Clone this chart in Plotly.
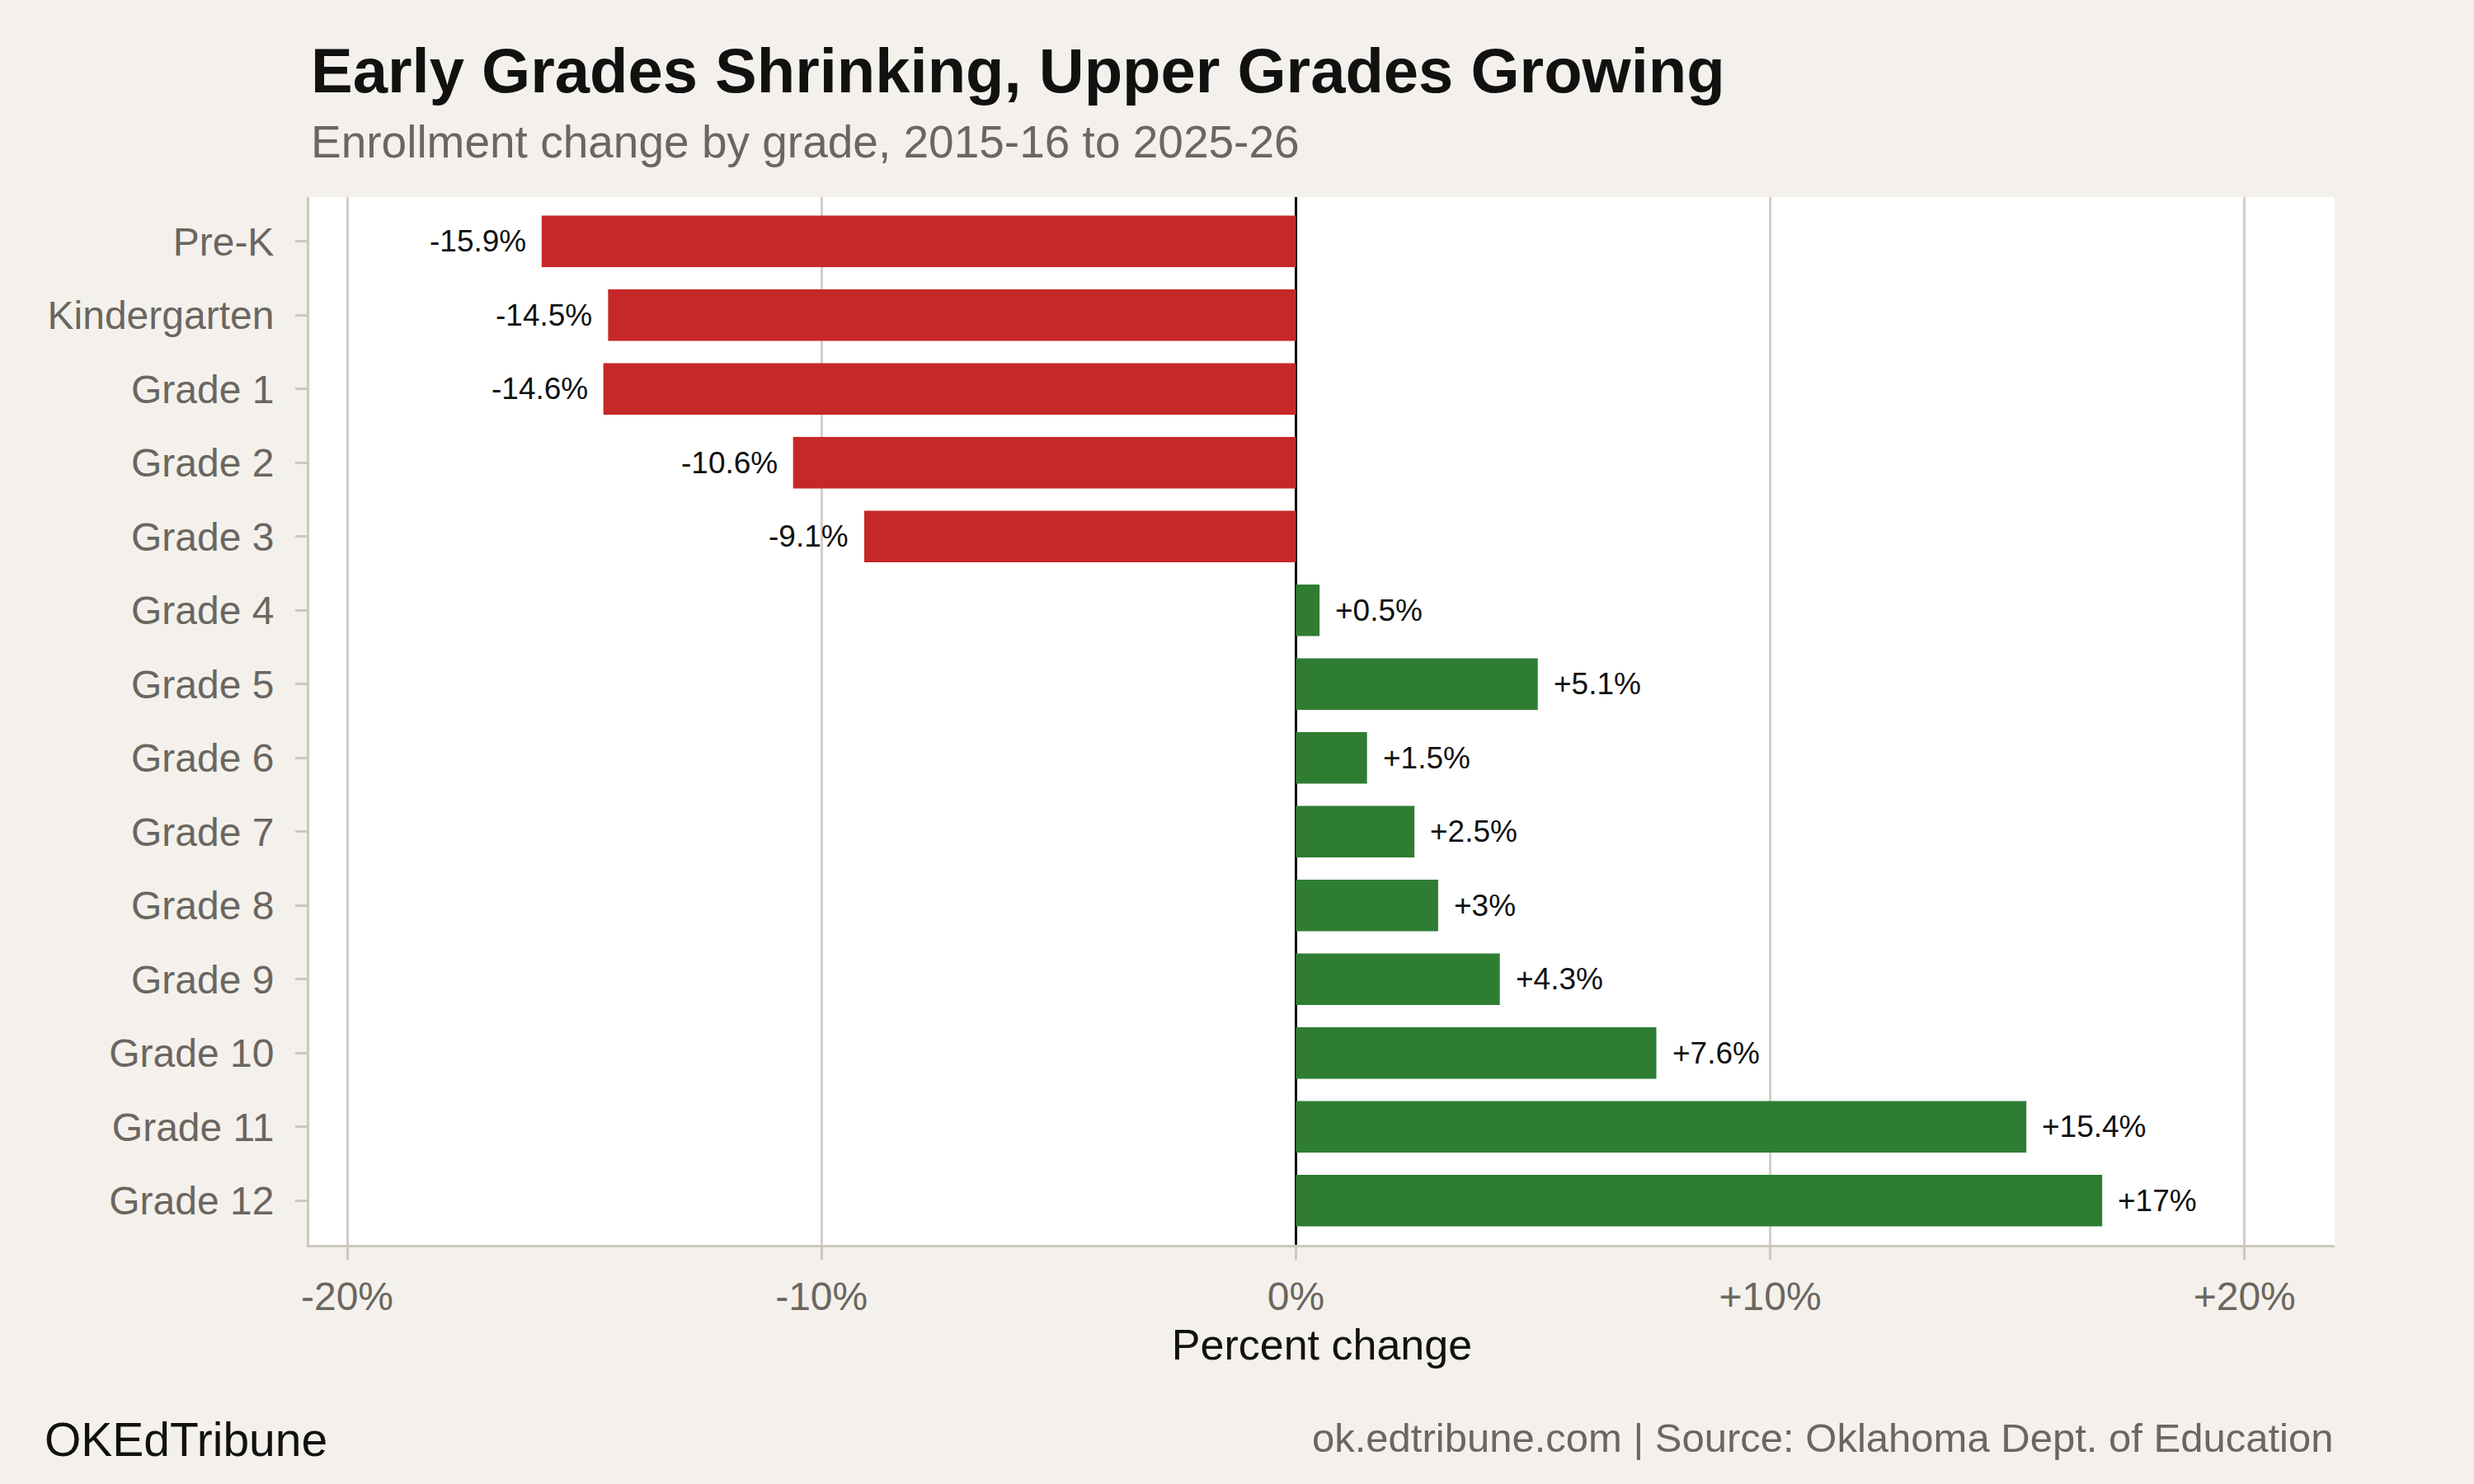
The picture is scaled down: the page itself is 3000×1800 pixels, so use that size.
import plotly.graph_objects as go

grades = ["Pre-K", "Kindergarten", "Grade 1", "Grade 2", "Grade 3", "Grade 4",
          "Grade 5", "Grade 6", "Grade 7", "Grade 8", "Grade 9", "Grade 10",
          "Grade 11", "Grade 12"]
pct_change = [-15.9, -14.5, -14.6, -10.6, -9.1, 0.5, 5.1, 1.5, 2.5, 3.0, 4.3,
              7.6, 15.4, 17.0]
x_tick_vals = [-20, -10, 0, 10, 20]
x_tick_text = ["-20%", "-10%", "0%", "+10%", "+20%"]

RED = "#c62828"
GREEN = "#2e7d32"
BG = "#f4f1ec"
GREY_TXT = "#6b6660"
AXIS_GREY = "#cdc8bf"
GRID_GREY = "#d3cec6"
FONT = "Liberation Sans"


def fmt(v):
    s = f"{v:g}"
    return ("+" + s if v > 0 else s) + "%"


colors = [RED if v < 0 else GREEN for v in pct_change]

fig = go.Figure()
fig.add_trace(go.Bar(
    x=pct_change, y=grades, orientation="h",
    marker=dict(color=colors, line=dict(width=0)),
    hoverinfo="skip", showlegend=False,
))

annotations = []
for g, v in zip(grades, pct_change):
    annotations.append(dict(
        x=v, y=g, xref="x", yref="y", text=fmt(v), showarrow=False,
        xanchor="left" if v > 0 else "right", yanchor="middle",
        xshift=17 if v > 0 else -17,
        font=dict(family=FONT, size=37, color="#111111"),
    ))

# title, subtitle, footer
annotations += [
    dict(x=0, y=1.1204, xref="paper", yref="paper", xanchor="left", yanchor="middle",
         text="<b>Early Grades Shrinking, Upper Grades Growing</b>", showarrow=False,
         font=dict(family=FONT, size=76, color="#111111")),
    dict(x=0, y=1.0527, xref="paper", yref="paper", xanchor="left", yanchor="middle",
         text="Enrollment change by grade, 2015-16 to 2025-26", showarrow=False,
         font=dict(family=FONT, size=55, color=GREY_TXT)),
    dict(x=-0.1314, y=-0.1857, xref="paper", yref="paper", xanchor="left", yanchor="middle",
         text="OKEdTribune", showarrow=False,
         font=dict(family=FONT, size=57, color="#111111")),
    dict(x=1, y=-0.184, xref="paper", yref="paper", xanchor="right", yanchor="middle",
         text="ok.edtribune.com | Source: Oklahoma Dept. of Education", showarrow=False,
         font=dict(family=FONT, size=49, color=GREY_TXT)),
]

fig.update_layout(
    width=3000, height=1800,
    paper_bgcolor=BG, plot_bgcolor="white",
    margin=dict(l=375, r=169, t=239, b=290, autoexpand=False),
    bargap=0.3,
    annotations=annotations,
    font=dict(family=FONT),
)

fig.update_xaxes(
    range=[-20.8, 21.9], tickvals=x_tick_vals, ticktext=x_tick_text,
    showgrid=True, gridcolor=GRID_GREY, gridwidth=2.5,
    zeroline=True, zerolinecolor="#111111", zerolinewidth=3,
    showline=True, linecolor=AXIS_GREY, linewidth=3,
    ticks="outside", ticklen=15, tickwidth=3, tickcolor=AXIS_GREY,
    ticklabelstandoff=3,
    tickfont=dict(family=FONT, size=48, color=GREY_TXT),
    title=dict(text="Percent change", standoff=16,
               font=dict(family=FONT, size=52, color="#111111")),
    fixedrange=True,
)
fig.update_yaxes(
    type="category", categoryorder="array", categoryarray=grades,
    range=[13.6, -0.6],
    showgrid=False, zeroline=False,
    showline=True, linecolor=AXIS_GREY, linewidth=3,
    ticks="outside", ticklen=14, tickwidth=3, tickcolor=AXIS_GREY,
    ticklabelstandoff=16,
    tickfont=dict(family=FONT, size=48, color=GREY_TXT),
    fixedrange=True,
)

fig.write_html(
    "out.html",
    config={"displayModeBar": False},
    post_script="document.body.style.margin='0';document.body.style.padding='0';",
)
